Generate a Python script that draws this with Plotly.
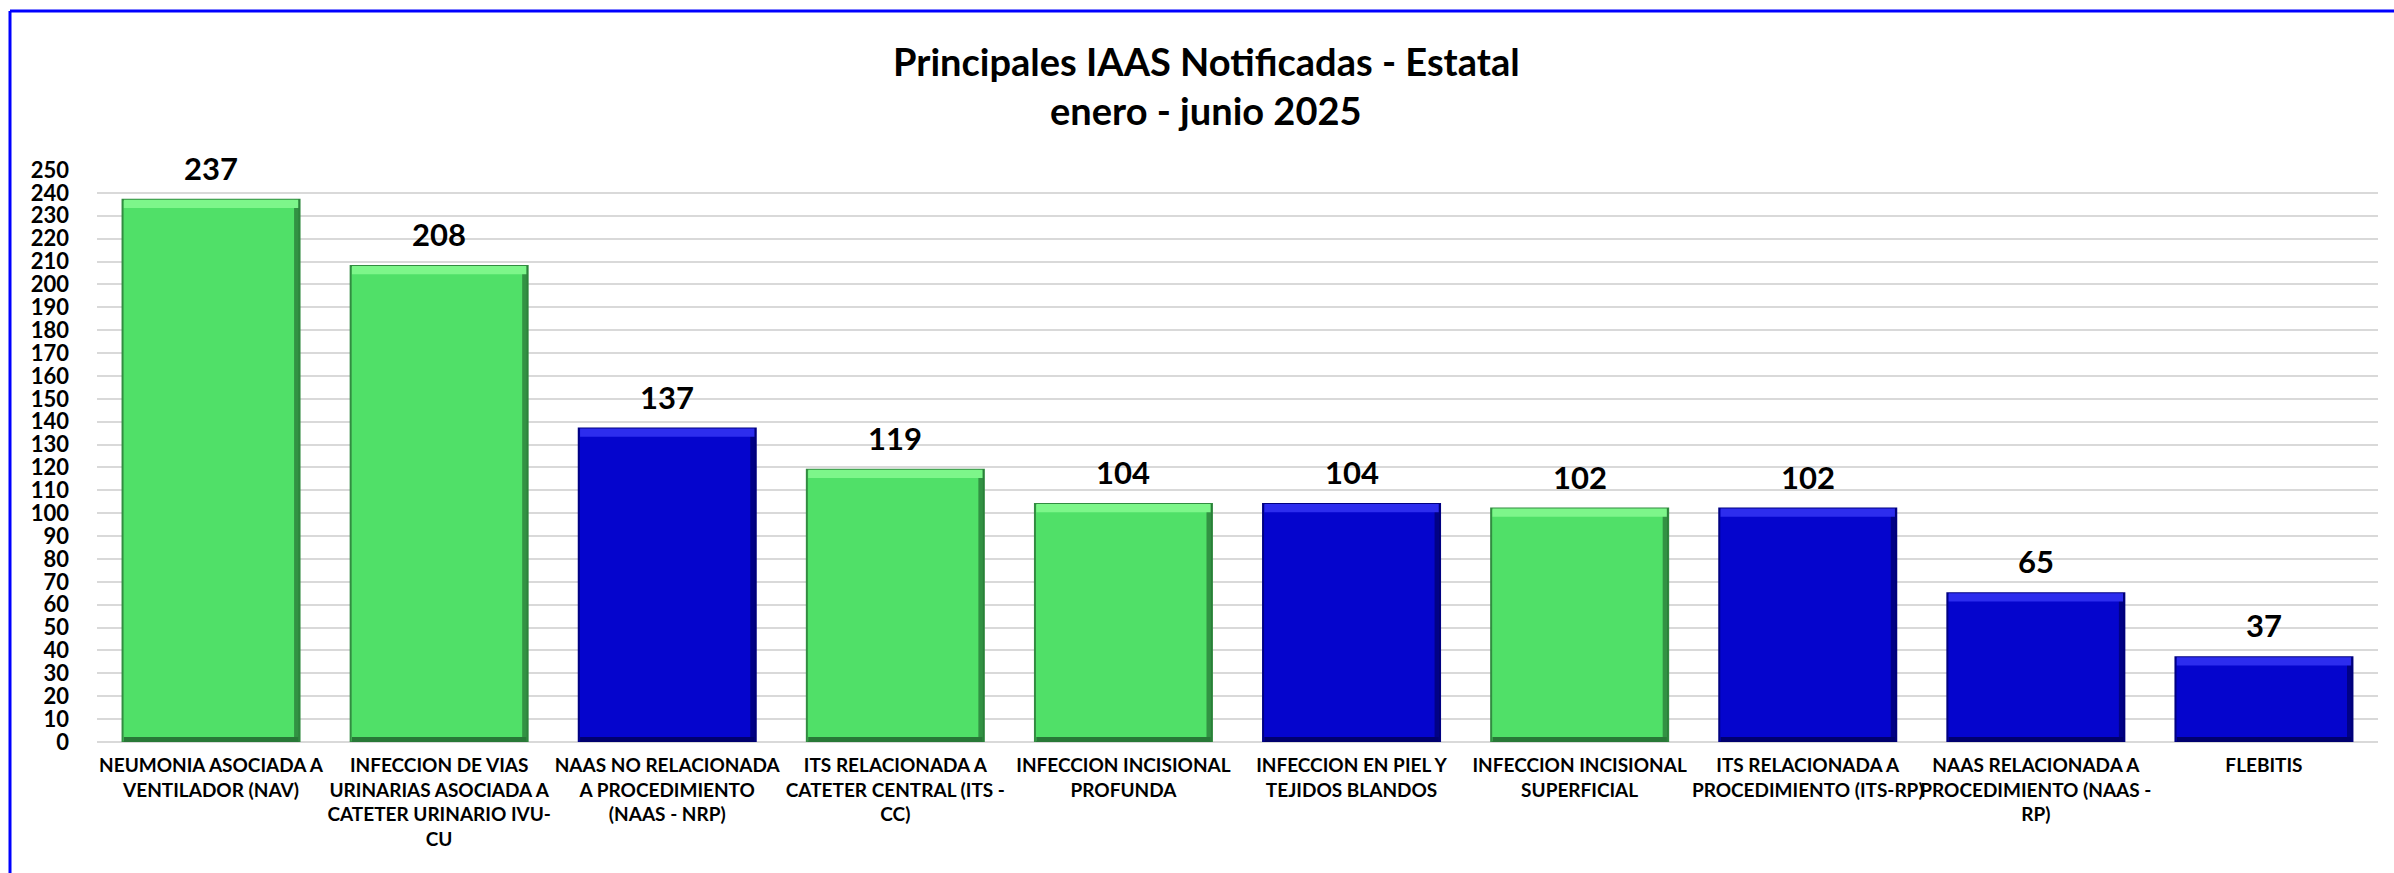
import plotly.graph_objects as go

categories = [
    "NEUMONIA ASOCIADA A<br>VENTILADOR (NAV)",
    "INFECCION DE VIAS<br>URINARIAS ASOCIADA A<br>CATETER URINARIO IVU-<br>CU",
    "NAAS NO RELACIONADA<br>A PROCEDIMIENTO<br>(NAAS - NRP)",
    "ITS RELACIONADA A<br>CATETER CENTRAL (ITS -<br>CC)",
    "INFECCION INCISIONAL<br>PROFUNDA",
    "INFECCION EN PIEL Y<br>TEJIDOS BLANDOS",
    "INFECCION INCISIONAL<br>SUPERFICIAL",
    "ITS RELACIONADA A<br>PROCEDIMIENTO (ITS-RP)",
    "NAAS RELACIONADA A<br>PROCEDIMIENTO (NAAS -<br>RP)",
    "FLEBITIS",
]
values = [237, 208, 137, 119, 104, 104, 102, 102, 65, 37]
groups = ["g", "g", "b", "g", "g", "b", "g", "b", "b", "b"]
y_ticks = list(range(0, 251, 10))
title_lines = ["Principales IAAS Notificadas - Estatal", "enero - junio 2025"]

FILL = {"g": "rgb(80,224,104)", "b": "rgb(5,5,205)"}
LIGHT = {"g": "rgb(125,246,138)", "b": "rgb(45,45,238)"}
DARK = {"g": "rgb(40,120,55)", "b": "rgb(0,0,110)"}
EDGE = {"g": "rgb(50,140,65)", "b": "rgb(0,0,130)"}

fills = [FILL[g] for g in groups]
lights = [LIGHT[g] for g in groups]
darks = [DARK[g] for g in groups]
edges = [EDGE[g] for g in groups]

FONT = "Lato, 'Open Sans', Arial, sans-serif"
BAR_W = 0.776
TOP_STRIP = 3.6
BOTTOM_STRIP = 2.2
SIDE_W = 0.024
n = len(values)

fig = go.Figure()
fig.add_trace(go.Bar(
    x=categories, y=values, width=BAR_W,
    marker=dict(color=fills, line=dict(color=edges, width=2)),
    hoverinfo="skip", showlegend=False,
))
# darker right-hand bevel edge
fig.add_trace(go.Bar(
    x=categories, y=values, width=SIDE_W, offset=BAR_W / 2 - SIDE_W,
    marker=dict(color=darks, line=dict(width=0), opacity=0.75),
    hoverinfo="skip", showlegend=False,
))
# lighter top bevel
fig.add_trace(go.Bar(
    x=categories, y=[TOP_STRIP] * n,
    base=[v - TOP_STRIP for v in values], width=BAR_W * 0.985,
    marker=dict(color=lights, line=dict(width=0)),
    hoverinfo="skip", showlegend=False,
))
# darker bottom bevel
fig.add_trace(go.Bar(
    x=categories, y=[BOTTOM_STRIP] * n,
    base=[0] * n, width=BAR_W * 0.985,
    marker=dict(color=darks, line=dict(width=0)),
    hoverinfo="skip", showlegend=False,
))

for c, v in zip(categories, values):
    fig.add_annotation(
        x=c, y=v, text=str(v), showarrow=False,
        yanchor="bottom", yshift=11,
        font=dict(family=FONT, size=31, color="black", weight="bold"),
    )

PLOT_L, PLOT_R, PLOT_T, PLOT_B = 97, 2378, 170, 742
PW, PH = PLOT_R - PLOT_L, PLOT_B - PLOT_T


def px_x(p):
    return (p - PLOT_L) / PW


def px_y(p):
    return (PLOT_B - p) / PH


for line, ypx in zip(title_lines, [61, 110]):
    fig.add_annotation(
        xref="paper", yref="paper", x=px_x(1206), y=px_y(ypx),
        xanchor="center", yanchor="middle", showarrow=False, text=line,
        font=dict(family=FONT, size=38, color="black", weight="bold"),
    )

fig.update_layout(
    width=2394, height=873,
    margin=dict(l=PLOT_L, r=2394 - PLOT_R, t=PLOT_T, b=873 - PLOT_B),
    paper_bgcolor="white", plot_bgcolor="white",
    barmode="overlay",
    xaxis=dict(
        type="category",
        showgrid=False, showline=False, zeroline=False,
        tickfont=dict(family=FONT, size=19, color="black", weight="bold"),
        ticklabelstandoff=10,
        tickangle=0,
    ),
    yaxis=dict(
        range=[0, 250],
        tickvals=y_ticks,
        ticktext=[str(t) for t in y_ticks],
        showgrid=True, gridcolor="#D9D9D9", gridwidth=2,
        zeroline=True, zerolinecolor="#D9D9D9", zerolinewidth=2,
        showline=False,
        tickfont=dict(family=FONT, size=22, color="black", weight="bold"),
        ticklabelstandoff=27,
        fixedrange=True,
    ),
    bargap=0.224,
    shapes=[
        dict(type="line", xref="paper", yref="paper",
             x0=px_x(10), x1=px_x(10), y0=px_y(11), y1=px_y(880),
             line=dict(color="#0000FF", width=3)),
        dict(type="line", xref="paper", yref="paper",
             x0=px_x(10), x1=px_x(2400), y0=px_y(11), y1=px_y(11),
             line=dict(color="#0000FF", width=3)),
    ],
)

fig.write_html(
    "out.html",
    config={"displayModeBar": False},
    post_script="document.body.style.margin='0';document.body.style.padding='0';"
                "document.body.style.overflow='hidden';",
)
